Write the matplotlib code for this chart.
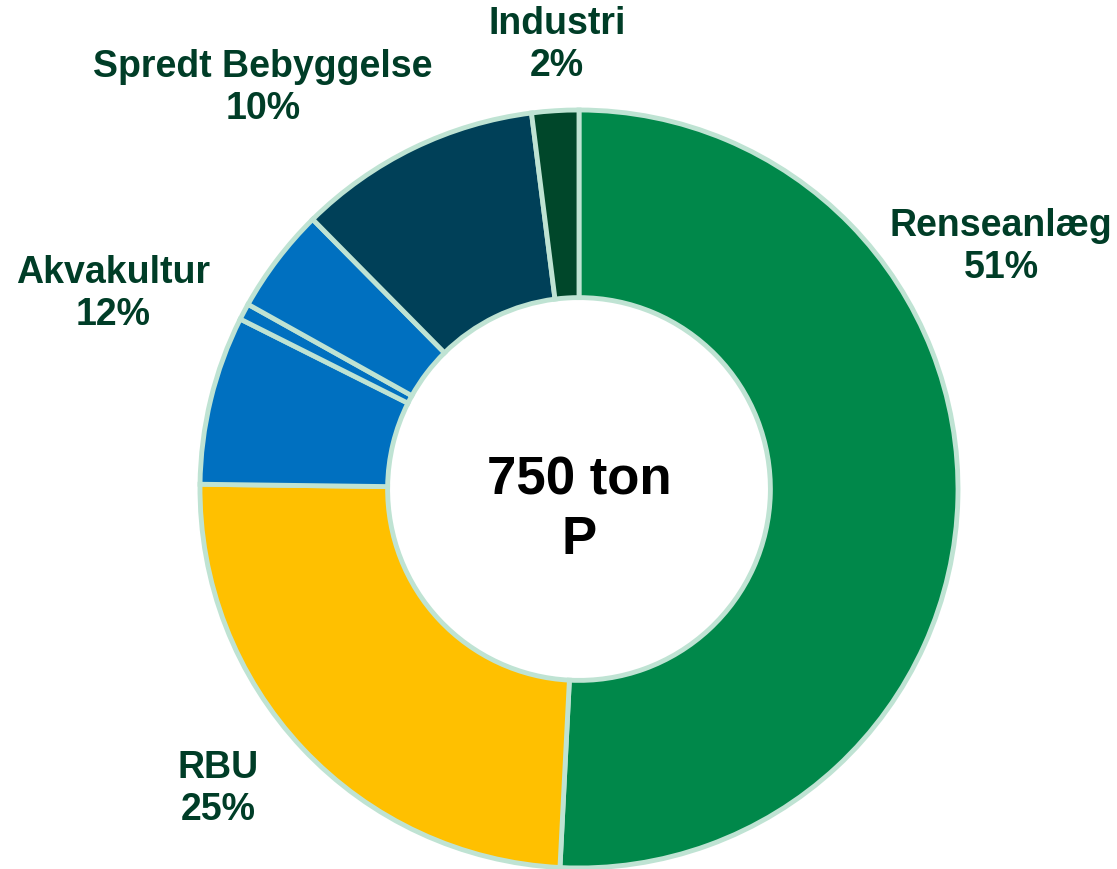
import matplotlib.pyplot as plt

plt.rcParams['font.family'] = ['Liberation Sans', 'DejaVu Sans']

# slices, clockwise from 12 o'clock (Akvakultur is drawn as three pieces)
slice_values = [50.8, 24.4, 7.2, 0.7, 4.5, 10.4, 2.0]
slice_colors = ['#00884A', '#FFC000', '#0070C0', '#0070C0', '#0070C0', '#004058', '#00472A']

categories = ['Renseanlæg', 'RBU', 'Akvakultur', 'Spredt Bebyggelse', 'Industri']
shares = [51, 25, 12, 10, 2]
center_text = '750 ton\nP'

# label centres in pixels (x from left, y from top)
label_pos = [(1001, 247), (218, 789), (113, 294), (263, 88), (557, 45)]

W, H = 1117, 870
fig = plt.figure(figsize=(W / 100, H / 100), dpi=100)
ax = fig.add_axes([0, 0, 1, 1])
ax.axis('off')

cx, cy, R = 579, H - 490, 379
ax.pie(slice_values, colors=slice_colors, startangle=90, counterclock=False,
       center=(cx, cy), radius=R,
       wedgeprops=dict(width=R * 0.495, edgecolor='#BFE3D3', linewidth=3.5))
ax.set_xlim(0, W)
ax.set_ylim(0, H)

ax.text(cx, cy - 20, center_text, ha='center', va='center', fontsize=38,
        fontweight='bold', color='black', linespacing=1.25)

for name, share, (px, py) in zip(categories, shares, label_pos):
    ax.text(px, H - py, f'{name}\n{share}%', ha='center', va='center',
            fontsize=27, fontweight='bold', color='#003D27', linespacing=1.22)

fig.savefig('out.png', dpi=100)
